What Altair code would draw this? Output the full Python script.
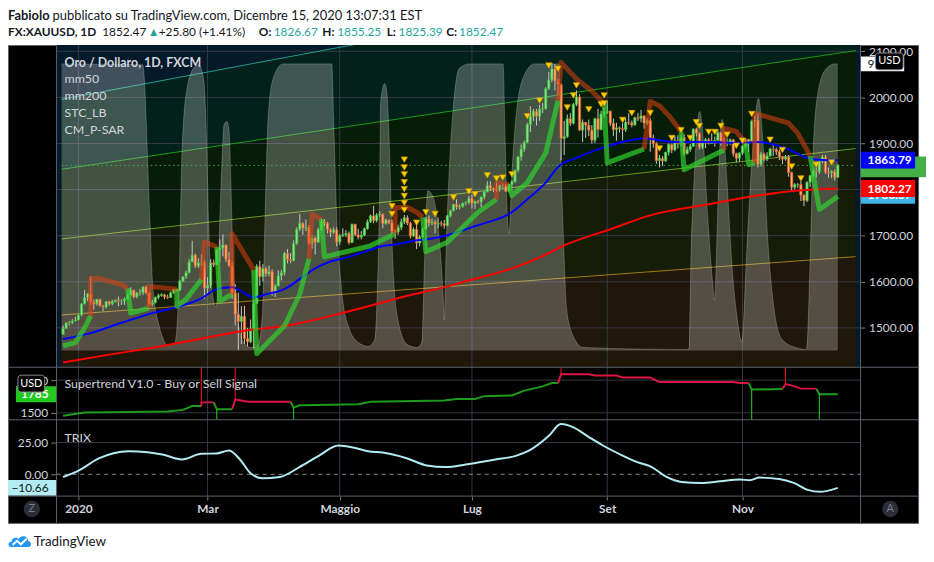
import altair as alt
import numpy as np
import pandas as pd

FONT = "Lato"

# ---------------------------------------------------------------- price data
HOLIDAYS = ["2019-12-25", "2020-01-01", "2020-04-10"]
FIRST_OPEN = 1486.0

close = [
    1499, 1511, 1511, 1515, 1517,
    1528, 1552, 1566, 1574, 1556, 1552, 1562, 1548, 1545, 1557, 1552, 1557, 1560, 1558, 1558, 1563, 1571, 1582, 1567, 1576, 1576, 1589,
    1576, 1551, 1555, 1566, 1570, 1572, 1567, 1566, 1576, 1584, 1581, 1601, 1611, 1620, 1643, 1658, 1634, 1641, 1643, 1586,
    1592, 1641, 1637, 1669, 1673, 1680, 1649, 1635, 1576, 1529, 1514, 1525, 1477, 1470, 1498, 1553, 1633, 1611, 1629, 1617, 1622, 1577,
    1591, 1613, 1620, 1662, 1648, 1646, 1683, 1714, 1727, 1716, 1718, 1683, 1695, 1686, 1713, 1730, 1727, 1713, 1707, 1713, 1686,
    1700, 1702, 1705, 1685, 1725, 1702, 1697, 1701, 1715, 1730, 1743, 1733, 1745, 1747, 1726, 1734, 1728, 1709, 1708, 1718, 1730,
    1739, 1727, 1699, 1714, 1684, 1697, 1714, 1737, 1727, 1730, 1725, 1727, 1726, 1722, 1743, 1754, 1768, 1762, 1763, 1771, 1772, 1781,
    1770, 1775, 1773, 1784, 1795, 1809, 1803, 1799, 1802, 1809, 1808, 1796, 1811, 1817, 1842, 1871, 1888, 1902, 1941, 1959, 1970, 1959, 1975,
    1976, 2019, 2038, 2062, 2035, 2028, 1911, 1915, 1954, 1944, 1985, 2001, 1929, 1946, 1940, 1929, 1907, 1954, 1930, 1964, 1968,
    1970, 1944, 1930, 1934, 1932, 1930, 1946, 1945, 1940, 1956, 1954, 1960, 1944, 1950, 1912, 1900, 1863, 1868, 1862, 1881, 1898, 1886,
    1906, 1900, 1913, 1878, 1887, 1894, 1931, 1922, 1892, 1902, 1908, 1900, 1905, 1907, 1924, 1904, 1902, 1902, 1908, 1878, 1868, 1879,
    1894, 1909, 1903, 1948, 1951, 1855, 1877, 1866, 1873, 1888, 1887, 1882, 1871, 1866, 1871, 1837, 1805, 1811, 1811, 1788, 1776,
    1816, 1830, 1841, 1839, 1862, 1871, 1838, 1836, 1839, 1826.67, 1852.47,
]
high = [
    1505, 1512, 1515, 1519, 1524,
    1529, 1553, 1582, 1575, 1611, 1562, 1563, 1563, 1550, 1558, 1558, 1561, 1562, 1568, 1562, 1566, 1574, 1588, 1583, 1578, 1584, 1590,
    1592, 1577, 1561, 1568, 1574, 1575, 1574, 1572, 1579, 1585, 1585, 1604, 1612, 1624, 1649, 1689, 1661, 1651, 1660, 1648,
    1610, 1649, 1648, 1672, 1692, 1703, 1681, 1665, 1642, 1595, 1576, 1547, 1548, 1500, 1518, 1562, 1638, 1646, 1638, 1633, 1635, 1627,
    1595, 1625, 1626, 1665, 1671, 1662, 1690, 1718, 1747, 1729, 1735, 1723, 1701, 1698, 1717, 1738, 1736, 1730, 1716, 1718, 1718,
    1704, 1716, 1712, 1709, 1726, 1723, 1715, 1710, 1718, 1735, 1746, 1765, 1749, 1753, 1748, 1737, 1735, 1735, 1714, 1724, 1737,
    1745, 1744, 1730, 1718, 1727, 1701, 1718, 1741, 1744, 1737, 1734, 1739, 1732, 1734, 1745, 1756, 1769, 1779, 1768, 1771, 1775, 1786,
    1789, 1776, 1778, 1785, 1797, 1818, 1818, 1805, 1815, 1811, 1814, 1812, 1813, 1820, 1843, 1873, 1898, 1906, 1945, 1981, 1975, 1975, 1984,
    1988, 2022, 2055, 2075, 2072, 2040, 2030, 1949, 1963, 1966, 1988, 2015, 2007, 1952, 1946, 1952, 1940, 1956, 1975, 1971, 1979,
    1992, 1972, 1954, 1945, 1937, 1944, 1955, 1966, 1950, 1958, 1966, 1973, 1960, 1955, 1955, 1919, 1903, 1875, 1873, 1882, 1900, 1900,
    1917, 1918, 1920, 1920, 1893, 1899, 1933, 1934, 1924, 1906, 1912, 1912, 1922, 1915, 1931, 1925, 1913, 1911, 1911, 1910, 1880, 1881,
    1897, 1911, 1910, 1952, 1960, 1965, 1882, 1880, 1881, 1891, 1900, 1891, 1887, 1873, 1875, 1875, 1839, 1814, 1814, 1818, 1790,
    1818, 1832, 1843, 1848, 1865, 1875, 1875, 1848, 1842, 1844, 1855.25,
]
low = [
    1485, 1498, 1505, 1508, 1514,
    1517, 1525, 1551, 1558, 1550, 1540, 1548, 1546, 1536, 1542, 1548, 1549, 1555, 1547, 1550, 1550, 1561, 1570, 1564, 1564, 1570, 1571,
    1573, 1549, 1547, 1553, 1562, 1568, 1562, 1563, 1565, 1574, 1578, 1580, 1599, 1606, 1618, 1644, 1630, 1630, 1635, 1563,
    1575, 1586, 1632, 1637, 1641, 1655, 1643, 1632, 1563, 1505, 1452, 1465, 1465, 1460, 1467, 1455, 1552, 1591, 1601, 1611, 1612, 1570,
    1567, 1590, 1603, 1614, 1640, 1640, 1644, 1680, 1710, 1702, 1710, 1680, 1672, 1659, 1684, 1710, 1720, 1705, 1697, 1704, 1677,
    1680, 1697, 1697, 1681, 1685, 1699, 1692, 1692, 1699, 1713, 1728, 1727, 1729, 1741, 1716, 1724, 1725, 1705, 1693, 1702, 1712,
    1725, 1723, 1694, 1698, 1671, 1677, 1694, 1712, 1720, 1723, 1705, 1716, 1720, 1715, 1720, 1740, 1753, 1757, 1757, 1761, 1766, 1768,
    1759, 1758, 1769, 1762, 1779, 1794, 1798, 1795, 1795, 1796, 1804, 1795, 1794, 1806, 1815, 1838, 1863, 1882, 1901, 1925, 1949, 1939, 1949,
    1966, 1973, 2016, 2033, 2015, 2005, 1863, 1875, 1912, 1938, 1941, 1981, 1927, 1903, 1912, 1916, 1900, 1901, 1913, 1929, 1956,
    1964, 1938, 1916, 1906, 1924, 1907, 1925, 1940, 1935, 1939, 1949, 1946, 1932, 1940, 1882, 1891, 1856, 1848, 1851, 1860, 1874, 1879,
    1883, 1889, 1894, 1873, 1876, 1882, 1893, 1916, 1887, 1888, 1890, 1898, 1899, 1893, 1905, 1895, 1900, 1894, 1897, 1872, 1859, 1860,
    1875, 1890, 1881, 1903, 1934, 1848, 1850, 1861, 1862, 1871, 1873, 1875, 1864, 1855, 1863, 1828, 1799, 1800, 1804, 1775, 1764,
    1773, 1806, 1825, 1826, 1834, 1857, 1834, 1826, 1825, 1820, 1825.39,
]

month_keys = ["2020-01", "2020-03", "2020-05", "2020-07", "2020-09", "2020-11"]
month_labels = ["2020", "Mar", "Maggio", "Lug", "Set", "Nov"]
price_ticks = [1500, 1600, 1700, 1800, 1900, 2000, 2100]
st_ticks = [1500, 2000]
trix_ticks = [0, 25]

# ---------------------------------------------------------------- indicators (bar index, value)
mm50_bar = [0, 8, 19, 29, 40, 45, 50, 55, 59, 62, 66, 72, 78, 82, 87, 93, 98, 103, 109, 114,
            119, 125, 131, 135, 146, 151, 157, 161, 167, 178, 189, 194, 199, 210, 220, 226, 235, 242, 247, 252]
mm50_val = [1476, 1487, 1511, 1532, 1551, 1564, 1584, 1588, 1575, 1566, 1573, 1584, 1611, 1629, 1644, 1654, 1665, 1676, 1682, 1689,
            1693, 1701, 1714, 1723, 1751, 1779, 1815, 1849, 1869, 1896, 1911, 1907, 1903, 1903, 1901, 1903, 1890, 1869, 1864, 1863.79]
mm200_bar = [0, 15, 29, 50, 59, 72, 93, 114, 125, 131, 146, 157, 162, 178, 191, 210, 226, 236, 252]
mm200_val = [1425, 1442, 1457, 1483, 1494, 1504, 1536, 1573, 1590, 1601, 1629, 1659, 1676, 1714, 1744, 1768, 1787, 1796, 1802.27]

psar_side = ["up", "down", "up", "down", "up", "down", "up", "down", "up", "down", "up", "down",
             "up", "down", "up", "down", "up", "down", "up", "down", "up", "down", "up"]
psar_bars = [
    [0, 4, 7, 9], [9, 9, 12, 19, 21], [21, 22, 28], [28, 28, 37], [37, 37, 40, 45], [45, 46, 50],
    [50, 51, 55], [55, 55, 62], [62, 63, 72, 77, 80], [80, 81, 84], [84, 85, 100, 108],
    [108, 108, 112, 115, 117], [117, 118, 125, 131, 135, 141], [141, 141, 145], [145, 146, 151, 157, 161],
    [161, 162, 167, 172, 176], [176, 177, 189], [189, 191, 194, 197, 201], [201, 202, 215],
    [215, 215, 219, 222], [222, 223, 225], [225, 225, 231, 236, 239, 243], [243, 246, 252],
]
psar_vals = [
    [1461, 1468, 1500, 1526], [1526, 1607, 1607, 1594, 1586], [1586, 1532, 1543], [1543, 1590, 1584],
    [1584, 1547, 1562, 1605], [1605, 1686, 1676], [1676, 1558, 1573], [1573, 1704, 1626],
    [1626, 1444, 1504, 1573, 1650], [1650, 1746, 1736], [1736, 1654, 1678, 1704],
    [1704, 1761, 1761, 1751, 1740], [1740, 1665, 1686, 1725, 1751, 1779], [1779, 1815, 1811],
    [1811, 1787, 1815, 1879, 1993], [1993, 2076, 2040, 2014, 1986], [1986, 1858, 1888],
    [1888, 1991, 1982, 1961, 1926], [1926, 1843, 1886], [1886, 1933, 1926, 1901], [1901, 1854, 1858],
    [1858, 1965, 1954, 1944, 1922, 1873], [1873, 1757, 1785],
]

tri_bar = [107, 107, 111, 111, 111, 111, 111, 111, 111, 111, 115, 118, 121, 127, 132, 134, 138, 141, 143, 146,
           151, 155, 158, 161, 164, 166, 167, 171, 175, 176, 176, 182, 185, 191, 194, 198, 201, 204, 206, 207,
           210, 212, 214, 216, 219, 221, 224, 230, 234, 237, 240, 245, 250]
tri_val = [1764, 1747, 1865, 1848, 1833, 1816, 1801, 1786, 1771, 1756, 1728, 1751, 1747, 1783, 1796, 1790, 1831, 1824, 1826, 1833,
           1959, 1993, 2069, 2062, 1978, 2004, 2026, 1974, 1985, 2004, 1987, 1951, 1966, 1966, 1889, 1912, 1929, 1912, 1946, 1938,
           1925, 1925, 1938, 1919, 1895, 1906, 1964, 1908, 1886, 1850, 1824, 1854, 1859]

stc_bar = [-0.5, 25.9, 28.2, 29.1, 31.3, 34.5, 36.4, 37.7, 38.7, 40.3,
           42.8, 44.1, 45.7, 46.6, 47.3, 48.2, 49.8, 51.4, 52.4, 53.3,
           54.0, 54.6, 55.2, 56.8, 58.7, 61.0, 63.2, 64.8, 65.7, 66.7,
           68.3, 71.5, 87.4, 88.0, 89.0, 90.6, 92.8, 96.0, 99.2, 101.4,
           102.3, 103.0, 103.3, 104.6, 105.2, 106.2, 107.1, 108.7, 111.9, 115.1,
           116.7, 117.6, 118.6, 120.2, 122.1, 123.7, 124.0, 124.6, 125.6, 126.9,
           128.8, 132.0, 143.1, 143.8, 144.4, 145.1, 146.0, 147.6, 150.1, 153.3,
           161.3, 161.9, 162.9, 163.8, 166.0, 169.2, 203.6, 204.3, 205.2, 206.5,
           207.1, 208.1, 209.7, 211.3, 211.9, 212.9, 213.8, 214.4, 216.0, 217.6,
           219.2, 220.8, 222.4, 224.3, 226.2, 227.5, 229.1, 231.3, 233.9, 238.3,
           241.8, 243.1, 244.0, 245.6, 248.2, 251.0, 252.0]
stc_val = [100, 99.7, 46.4, 23.5, 8.3, 1.4, 2.8, 23.5, 69.6, 91.3,
           99.0, 99.7, 94.8, 75.4, 46.4, 23.5, 15.2, 58.1, 78.9, 79.9,
           76.5, 58.1, 34.9, 11.8, 2.8, 1.0, 1.4, 11.8, 46.4, 81.0,
           94.8, 100, 100, 81.0, 46.4, 21.1, 8.3, 2.8, 1.4, 3.8,
           23.5, 58.1, 86.9, 93.1, 91.3, 69.6, 34.9, 11.8, 2.1, 1.0,
           2.8, 31.5, 55.7, 54.0, 41.9, 17.6, 10.7, 34.9, 62.6, 84.4,
           98.3, 100, 100, 73.0, 49.8, 40.8, 61.6, 84.4, 96.2, 100,
           100, 69.6, 34.9, 14.2, 4.8, 1.0, 0.3, 34.9, 58.1, 81.0,
           83.4, 75.4, 46.4, 23.5, 17.6, 46.4, 75.4, 80.6, 58.1, 29.1,
           11.8, 3.1, 34.9, 69.6, 87.9, 75.4, 40.8, 14.2, 3.8, 1.0,
           0.3, 34.9, 69.6, 90.3, 98.3, 100, 100]

st_side = ["up", "down", "up", "down", "up", "down", "up", "down", "up"]
st_bars = [
    [0, 7, 34, 39, 42, 45], [45, 45, 49], [49, 50, 55], [55, 56, 60, 74],
    [74, 75, 77, 96, 100, 124, 128, 134, 137, 146, 150, 156, 159, 161],
    [161, 162, 171, 173, 180, 182, 191, 194, 218, 220, 223], [223, 224, 234],
    [234, 235, 237, 240, 245], [245, 246, 252],
]
st_vals = [
    [1455, 1505, 1520, 1545, 1605, 1605], [1605, 1660, 1660], [1660, 1555, 1555], [1555, 1705, 1670, 1670],
    [1670, 1580, 1615, 1630, 1670, 1690, 1712, 1712, 1755, 1765, 1840, 1905, 1955, 1955],
    [1955, 2090, 2090, 2070, 2070, 2040, 2040, 1970, 1970, 1955, 1955], [1955, 1855, 1865],
    [1865, 1940, 1920, 1870, 1870], [1870, 1785, 1785],
]
st_sell_bar = [45, 56, 162, 235]
st_sell_val = [1660, 1705, 2090, 1940]
st_buy_bar = [50, 75, 224, 246]
st_buy_val = [1555, 1580, 1855, 1785]

trix_bar = [0, 5.2, 11.6, 16.4, 21.2, 27.5, 32.3, 38.7, 45.0, 49.8, 54.0, 57.8, 61.0, 64.8, 70.5, 76.9,
            83.3, 89.6, 94.4, 99.2, 104.0, 112.0, 118.3, 124.6, 131.0, 140.6, 147.0, 151.7, 158.1, 161.9,
            166.0, 170.8, 175.6, 182.0, 186.8, 191.5, 196.3, 201.1, 207.5, 213.8, 220.2, 223.4, 226.5,
            232.9, 237.7, 242.5, 246.2, 252.0]
trix_val = [-2.1, 3.1, 12.5, 16.6, 18.2, 17.4, 15.6, 11.7, 16.2, 16.4, 18.8, 10.9, 0.8, -3.1, -2.1, 5.7,
            14.8, 22.7, 21.1, 18.2, 17.2, 12.5, 7.0, 5.7, 7.8, 11.7, 14.3, 18.8, 30.5, 39.6,
            37.0, 29.7, 22.7, 14.8, 9.6, 5.7, -2.1, -6.0, -6.8, -5.5, -4.1, -4.7, -2.6,
            -3.7, -6.8, -12.5, -13.8, -10.66]

fan_bar = [-0.5, 257.8]
fan_teal = [1995.7, 2318.2]
fan_green = [1844.0, 2101.5]
fan_lime = [1692.9, 1889.0]
fan_gold = [1528.0, 1654.5]

LAST_PRICE = 1852.47
MM50_LAST = 1863.79
MM200_LAST = 1802.27
AUX_LAST = 1788.57
ST_LAST = 1785
TRIX_LAST = -10.66
STC_LAST = 100
STC_LABEL = "99.97"

header_text = ["Fabiolo", "pubblicato su TradingView.com, Dicembre 15, 2020 13:07:31 EST",
               "FX:XAUUSD, 1D", "1852.47", "\u25B2", "+25.80 (+1.41%)", "O:", "1826.67", "H:", "1855.25",
               "L:", "1825.39", "C:", "1852.47"]
header_x = [0, 45, 0, 95, 141, 152, 253, 268, 317, 332, 382, 394, 442, 455]
header_row = [0, 0, 1, 1, 1, 1, 1, 1, 1, 1, 1, 1, 1, 1]
header_bold = [1, 0, 1, 0, 0, 0, 1, 0, 1, 0, 1, 0, 1, 0]
header_teal = [0, 0, 0, 0, 1, 0, 0, 1, 0, 1, 0, 1, 0, 1]
legend_lines = ["Oro / Dollaro, 1D, FXCM", "mm50", "mm200", "STC_LB", "CM_P-SAR"]

# ---------------------------------------------------------------- tables
dates = [d for d in pd.bdate_range("2019-12-24", "2020-12-15") if d.strftime("%Y-%m-%d") not in HOLIDAYS]
assert len(dates) == len(close) == len(high) == len(low)
opens = [FIRST_OPEN] + close[:-1]
cdf = pd.DataFrame({"bar": np.arange(len(close)), "open": opens, "high": high, "low": low, "close": close})
cdf["high"] = cdf[["high", "open", "close"]].max(axis=1)
cdf["low"] = cdf[["low", "open", "close"]].min(axis=1)
up_df = cdf[cdf["close"] >= cdf["open"]]
dn_df = cdf[cdf["close"] < cdf["open"]]
month_of = [d.strftime("%Y-%m") for d in dates]
tick_bars = [month_of.index(m) for m in month_keys]


def seg_df(sides, bars, vals):
    rows = []
    for s, (side, bs, vs) in enumerate(zip(sides, bars, vals)):
        for i, (b, v) in enumerate(zip(bs, vs)):
            rows.append({"seg": s, "side": side, "i": i, "bar": b, "val": v})
    return pd.DataFrame(rows)


psar_df = seg_df(psar_side, psar_bars, psar_vals)
st_df = seg_df(st_side, st_bars, st_vals)
fan_df = pd.DataFrame({"bar": fan_bar, "teal": fan_teal, "green": fan_green, "lime": fan_lime, "gold": fan_gold})
one = pd.DataFrame({"k": [0]})

# ---------------------------------------------------------------- scales / axes
W, H = 918, 482
PX0, PX1 = 49, 860
MAIN_B, ST_B, TRIX_B = 325, 378, 455
GRID = "#363a45"
LBL = "#d1d4dc"

label_expr = "".join(f"datum.value == {b} ? '{l}' : " for b, l in zip(tick_bars, month_labels)) + "''"
x_axis = alt.Axis(values=tick_bars, labelExpr=label_expr, orient="bottom", offset=-27, grid=False,
                  domain=False, tickSize=4, tickColor="#787b86", labelColor=LBL, labelFont=FONT,
                  labelFontSize=12, labelFontWeight="bold", labelPadding=4, title=None, zindex=1)
xs = alt.Scale(domain=[fan_bar[0], fan_bar[1]], range=[PX0, PX1], nice=False, zero=False)

P_Y1500, P_Y2100 = 285.3, 6.3
ps = alt.Scale(domain=[1500, 2100], range=[P_Y1500, P_Y2100], nice=False, zero=False)
PANEL_FLOOR = 1500 - (MAIN_B - P_Y1500) * 600 / (P_Y1500 - P_Y2100)   # price at the panel's bottom edge
stc_s = alt.Scale(domain=[0, 100], range=[308, 19], nice=False, zero=False)
st_s = alt.Scale(domain=[1500, 2000], range=[371, 338], nice=False, zero=False)
tr_s = alt.Scale(domain=[0, 25], range=[433, 401], nice=False, zero=False)

price_axis = alt.Axis(orient="right", offset=-(W - PX1), values=price_ticks, format=".2f", grid=False,
                      domain=False, tickSize=4, tickColor="#787b86", labelColor=LBL, labelFont=FONT,
                      labelFontSize=12, labelPadding=4, title=None)
st_axis = alt.Axis(orient="left", offset=-PX0, values=st_ticks, format="d", grid=False, domain=False,
                   tickSize=6, tickColor="#787b86", labelColor=LBL, labelFont=FONT, labelFontSize=12,
                   labelPadding=3, title=None)
tr_axis = alt.Axis(orient="left", offset=-PX0, values=trix_ticks, format=".2f", grid=False, domain=False,
                   tickSize=6, tickColor="#787b86", labelColor=LBL, labelFont=FONT, labelFontSize=12,
                   labelPadding=3, title=None)


def X(f):
    return alt.X(f, type="quantitative", scale=xs, axis=x_axis, title=None)


def Y(f, scale, axis):
    return alt.Y(f, type="quantitative", scale=scale, axis=axis, title=None)


def YD(v, scale, axis):
    return alt.Y(datum=v, type="quantitative", scale=scale, axis=axis)


def badge(v, scale, axis, x0, x1, up, dn, fill, text, tcolor, tx, align="left", bold=True, size=12):
    r = alt.Chart(one).mark_rect(color=fill, yOffset=-up, y2Offset=dn).encode(
        x=alt.value(x0), x2=alt.value(x1), y=YD(v, scale, axis), y2=alt.Y2(datum=v))
    t = alt.Chart(one).mark_text(text=text, color=tcolor, align=align, baseline="middle", font=FONT,
                                 fontSize=size, fontWeight="bold" if bold else "normal",
                                 dy=(dn - up) / 2).encode(x=alt.value(tx), y=YD(v, scale, axis))
    return [r, t]


def hrule(y0, x0, x1, color, width=1):
    return alt.Chart(one).mark_rule(color=color, strokeWidth=width).encode(
        x=alt.value(x0), x2=alt.value(x1), y=alt.value(y0))


def vrule(x0, y0, y1, color, width=1):
    return alt.Chart(one).mark_rule(color=color, strokeWidth=width).encode(
        x=alt.value(x0), y=alt.value(y0), y2=alt.value(y1))


def txt(text, x, y, color=LBL, size=12.5, bold=False, align="left"):
    return alt.Chart(one).mark_text(text=text, color=color, font=FONT, fontSize=size,
                                    fontWeight="bold" if bold else "normal", align=align,
                                    baseline="middle").encode(x=alt.value(x), y=alt.value(y))


# ---------------------------------------------------------------- main panel background
bg = [
    alt.Chart(one).mark_rect(color="#04192a").encode(x=alt.value(PX0), x2=alt.value(PX1), y=alt.value(0), y2=alt.value(MAIN_B)),
    alt.Chart(fan_df).mark_area(color="#01211a", clip=True).encode(x=X("bar"), y=Y("green", ps, None), y2="teal"),
    alt.Chart(fan_df).mark_area(color="#081d07", clip=True).encode(x=X("bar"), y=Y("lime", ps, None), y2="green"),
    alt.Chart(fan_df).mark_area(color="#151c07", clip=True).encode(x=X("bar"), y=Y("gold", ps, None), y2="lime"),
    alt.Chart(fan_df).mark_area(color="#1f1709", clip=True).encode(x=X("bar"), y=Y("gold", ps, None), y2=alt.datum(PANEL_FLOOR)),
    alt.Chart(pd.DataFrame({"lvl": price_ticks})).mark_rule(color=GRID, strokeWidth=1).encode(
        x=alt.value(PX0), x2=alt.value(PX1), y=Y("lvl", ps, None)),
    alt.Chart(pd.DataFrame({"bar": tick_bars})).mark_rule(color=GRID, strokeWidth=1).encode(
        x=X("bar"), y=alt.value(0), y2=alt.value(TRIX_B)),
]
for name, col in [("teal", "#1f9e8e"), ("green", "#1a9c1a"), ("lime", "#6c9a14"), ("gold", "#a47c0e")]:
    bg.append(alt.Chart(fan_df).mark_line(color=col, strokeWidth=1, clip=True).encode(x=X("bar"), y=Y(name, ps, None)))
main_bg = alt.layer(*bg)

# ---------------------------------------------------------------- STC overlay
stc_df = pd.DataFrame({"bar": stc_bar, "stc": stc_val})
stc_layer = alt.layer(
    alt.Chart(stc_df).mark_area(color="#ffffff", opacity=0.24, interpolate="monotone").encode(
        x=X("bar"), y=Y("stc", stc_s, None), y2=alt.datum(0)),
    alt.Chart(stc_df).mark_line(color="#ffffff", opacity=0.22, strokeWidth=1, interpolate="monotone").encode(
        x=X("bar"), y=Y("stc", stc_s, None)),
    *badge(STC_LAST, stc_s, None, PX1, 904, 7.5, 7.5, "#ffffff", STC_LABEL, "#131722", 867, bold=False),
)

# ---------------------------------------------------------------- main foreground
pl_df = pd.DataFrame({"bar": fan_bar, "p": [LAST_PRICE, LAST_PRICE]})
fg = [
    alt.Chart(pl_df).mark_line(color="#43b047", strokeWidth=1, strokeDash=[1.5, 3]).encode(x=X("bar"), y=Y("p", ps, price_axis)),
    alt.Chart(cdf).mark_rule(color="#c6c6c6", strokeWidth=1).encode(x=X("bar"), y=Y("low", ps, price_axis), y2="high"),
    alt.Chart(up_df).mark_bar(size=2.3, color="#8fe28f", stroke="#2fbf2f", strokeWidth=0.7).encode(
        x=X("bar"), y=Y("open", ps, price_axis), y2="close"),
    alt.Chart(dn_df).mark_bar(size=2.3, color="#f6b46c", stroke="#e2512c", strokeWidth=0.7).encode(
        x=X("bar"), y=Y("open", ps, price_axis), y2="close"),
    alt.Chart(pd.DataFrame({"bar": mm200_bar, "v": mm200_val})).mark_line(color="#ff0000", strokeWidth=2, interpolate="monotone").encode(
        x=X("bar"), y=Y("v", ps, price_axis)),
    alt.Chart(pd.DataFrame({"bar": mm50_bar, "v": mm50_val})).mark_line(color="#0000ff", strokeWidth=2, interpolate="monotone").encode(
        x=X("bar"), y=Y("v", ps, price_axis)),
    alt.Chart(psar_df[psar_df.side == "up"]).mark_line(color="#2fd12f", strokeWidth=5, opacity=0.7, strokeJoin="round").encode(
        x=X("bar"), y=Y("val", ps, price_axis), detail="seg:N", order="i:Q"),
    alt.Chart(psar_df[psar_df.side == "down"]).mark_line(color="#e04010", strokeWidth=5, opacity=0.55, strokeJoin="round").encode(
        x=X("bar"), y=Y("val", ps, price_axis), detail="seg:N", order="i:Q"),
    alt.Chart(pd.DataFrame({"bar": tri_bar, "v": tri_val})).mark_point(
        shape="triangle-down", filled=True, size=40, color="#ffd200", stroke="#cf9600", strokeWidth=0.7, opacity=1).encode(
        x=X("bar"), y=Y("v", ps, price_axis)),
]
fg += badge(LAST_PRICE, ps, price_axis, PX1, 926, 9, 12, "#43b047", "", "#ffffff", 868)
fg += badge(MM50_LAST, ps, price_axis, PX1, 915, 8.5, 8.5, "#0000ff", f"{MM50_LAST:.2f}", "#ffffff", 867)
fg += badge(AUX_LAST, ps, price_axis, PX1, 915, 9, 9, "#3db4e3", f"{AUX_LAST:.2f}", "#ffffff", 867)
fg += badge(MM200_LAST, ps, price_axis, PX1, 915, 8.5, 8.5, "#ff0000", f"{MM200_LAST:.2f}", "#ffffff", 867)
main_fg = alt.layer(*fg)

# ---------------------------------------------------------------- supertrend panel
st_layer = alt.layer(
    alt.Chart(pd.DataFrame({"lvl": st_ticks})).mark_rule(color=GRID).encode(
        x=alt.value(PX0), x2=alt.value(PX1), y=Y("lvl", st_s, st_axis)),
    alt.Chart(st_df[st_df.side == "up"]).mark_line(color="#1c9c1c", strokeWidth=2).encode(
        x=X("bar"), y=Y("val", st_s, st_axis), detail="seg:N", order="i:Q"),
    alt.Chart(st_df[st_df.side == "down"]).mark_line(color="#dc1444", strokeWidth=2).encode(
        x=X("bar"), y=Y("val", st_s, st_axis), detail="seg:N", order="i:Q"),
    alt.Chart(pd.DataFrame({"bar": st_sell_bar, "v": st_sell_val})).mark_rule(color="#ff1010", strokeWidth=1).encode(
        x=X("bar"), y=Y("v", st_s, st_axis), y2=alt.value(MAIN_B)),
    alt.Chart(pd.DataFrame({"bar": st_buy_bar, "v": st_buy_val})).mark_rule(color="#1fd61f", strokeWidth=1).encode(
        x=X("bar"), y=Y("v", st_s, st_axis), y2=alt.value(ST_B)),
    *badge(ST_LAST, st_s, st_axis, 8, PX0, 8, 8, "#20c820", str(ST_LAST), "#ffffff", 41, align="right"),
)

# ---------------------------------------------------------------- TRIX panel
trix_layer = alt.layer(
    alt.Chart(pd.DataFrame({"lvl": [trix_ticks[1]]})).mark_rule(color=GRID).encode(
        x=alt.value(PX0), x2=alt.value(PX1), y=Y("lvl", tr_s, tr_axis)),
    alt.Chart(pd.DataFrame({"lvl": [trix_ticks[0]]})).mark_rule(color="#8a8d96", strokeDash=[4, 4]).encode(
        x=alt.value(PX0), x2=alt.value(PX1), y=Y("lvl", tr_s, tr_axis)),
    alt.Chart(pd.DataFrame({"bar": trix_bar, "v": trix_val})).mark_line(color="#b2ebf2", strokeWidth=2, interpolate="monotone").encode(
        x=X("bar"), y=Y("v", tr_s, tr_axis)),
    *badge(TRIX_LAST, tr_s, tr_axis, 0, PX0, 8, 8, "#b2ebf2", "\u2212" + f"{abs(TRIX_LAST):.2f}", "#131722", 41, align="right", bold=False),
)

# ---------------------------------------------------------------- decorations
SEP = "#5d616b"
deco = [
    hrule(MAIN_B, 0, W, SEP), hrule(ST_B, 0, W, SEP), hrule(TRIX_B, 0, W, SEP),
    vrule(PX0, 0, H, SEP), vrule(PX1, 0, H, SEP),
]
for i, line in enumerate(legend_lines):
    deco.append(txt(line, 57, 17.7 + 17 * i, bold=(i == 0)))
deco.append(txt("Supertrend V1.0 - Buy or Sell Signal", 57, 342))
deco.append(txt("TRIX", 57, 396))
for t, x, r, b, tl in zip(header_text, header_x, header_row, header_bold, header_teal):
    deco.append(txt(t, x, -29.5 if r == 0 else -13.5, color="#26a69a" if tl else "#131722",
                    bold=bool(b), size=13 if r == 0 else 12))
# currency badges
for (x0, x1, y0, y1) in [(875, 903, 8, 25), (10, 37, 333, 350)]:
    deco.append(alt.Chart(one).mark_rect(color="#000000", stroke="#8a8d96", strokeWidth=1, cornerRadius=3).encode(
        x=alt.value(x0), x2=alt.value(x1), y=alt.value(y0), y2=alt.value(y1)))
    deco.append(txt("USD", (x0 + x1) / 2, (y0 + y1) / 2, color="#ffffff", size=11, align="center"))
# scale buttons
for lbl, cx in [("Z", 24), ("A", 890)]:
    deco.append(alt.Chart(one).mark_point(shape="circle", filled=True, size=270, color="#2a2e39", opacity=1).encode(
        x=alt.value(cx), y=alt.value(468)))
    deco.append(txt(lbl, cx, 468, color="#787b86", size=11, align="center"))
# TradingView logo
cloud = "M-0.75,0.45 C-1.05,0.45 -1.05,0.02 -0.72,0.0 C-0.7,-0.35 -0.3,-0.45 -0.12,-0.22 C0.05,-0.6 0.72,-0.55 0.72,-0.05 C1.02,-0.02 1.02,0.45 0.75,0.45 Z"
zig = "M-0.62,0.28 L-0.25,-0.08 L0.08,0.22 L0.6,-0.28"
deco.append(alt.Chart(one).mark_point(shape=cloud, filled=True, size=560, color="#2196f3", opacity=1).encode(
    x=alt.value(12), y=alt.value(501)))
deco.append(alt.Chart(one).mark_point(shape=zig, filled=False, size=560, color="#ffffff", strokeWidth=2, opacity=1).encode(
    x=alt.value(12), y=alt.value(501)))
deco.append(txt("TradingView", 26, 501, color="#131722", size=13.5))

chart = alt.layer(main_bg, stc_layer, main_fg, st_layer, trix_layer, *deco).resolve_scale(
    y="independent"
).properties(
    width=W, height=H,
    padding={"left": 0, "top": 35, "right": 8, "bottom": 27},
    autosize=alt.AutoSizeParams(type="none"),
    background="#ffffff",
).configure_view(fill="#000000", stroke="#5d616b", strokeWidth=1)

chart.save("out.html", embed_options={"renderer": "svg", "actions": False})
